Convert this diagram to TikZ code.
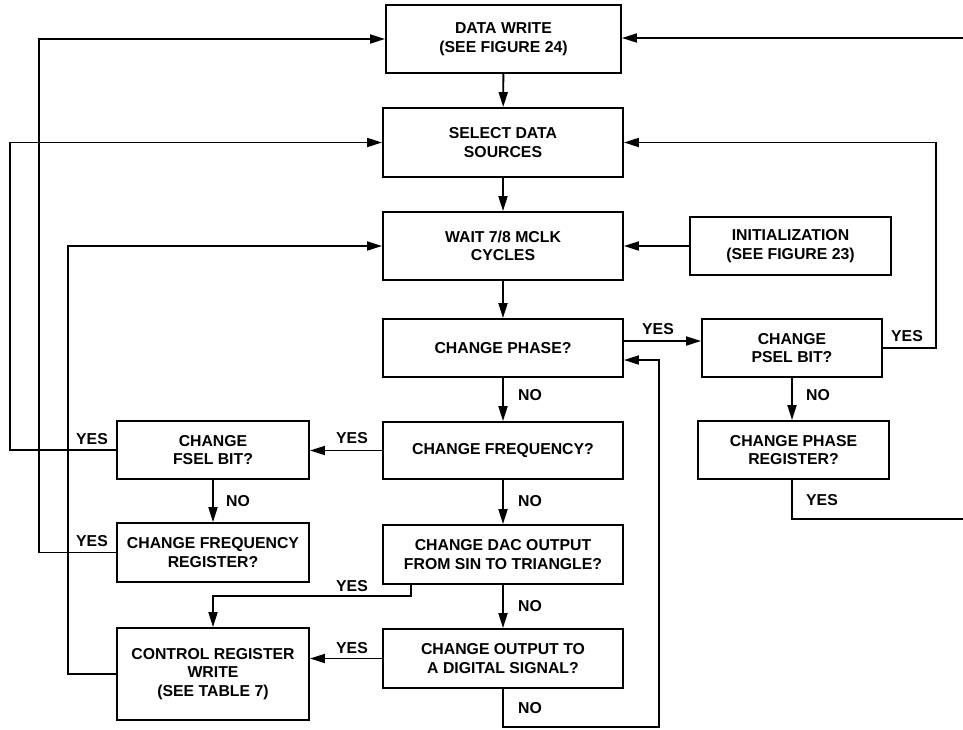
\documentclass[tikz,border=0pt]{standalone}
\usepackage{fontspec}
\setmainfont{Liberation Sans}
\usetikzlibrary{arrows.meta,calc}
\begin{document}
\begin{tikzpicture}[x=1pt,y=-1pt,
  every node/.style={font=\fontsize{15.8}{18.6}\selectfont\bfseries},
  box/.style={draw,line width=1.9pt,rectangle,inner sep=0pt,align=center},
  conn/.style={line width=1.9pt},
  arr/.style={conn,-{Triangle[length=15pt,width=9pt]}},
  lbl/.style={inner sep=0pt}]
\useasboundingbox (0,0) rectangle (963,729);
% boxes
\node[box,minimum width=235pt,minimum height=68pt] (dw) at (503.5,39) {DATA WRITE\\(SEE FIGURE 24)};
\node[box,minimum width=240pt,minimum height=69pt] (sel) at (503,142.5) {SELECT DATA\\SOURCES};
\node[box,minimum width=240pt,minimum height=68pt] (wait) at (503,246) {WAIT 7/8 MCLK\\CYCLES};
\node[box,minimum width=201pt,minimum height=58pt] (init) at (790.5,246) {INITIALIZATION\\(SEE FIGURE 23)};
\node[box,minimum width=240pt,minimum height=58pt] (phase) at (503,348) {CHANGE PHASE?};
\node[box,minimum width=180pt,minimum height=58pt] (psel) at (792,348) {CHANGE\\PSEL BIT?};
\node[box,minimum width=240pt,minimum height=57pt] (freq) at (503,450.5) {CHANGE FREQUENCY?};
\node[box,minimum width=192pt,minimum height=58pt] (fsel) at (213,450) {CHANGE\\FSEL BIT?};
\node[box,minimum width=191pt,minimum height=58pt] (preg) at (793.5,450) {CHANGE PHASE\\REGISTER?};
\node[box,minimum width=192pt,minimum height=59pt] (freg) at (213,552.5) {CHANGE FREQUENCY\\REGISTER?};
\node[box,minimum width=240pt,minimum height=59pt] (dac) at (503,554.5) {CHANGE DAC OUTPUT\\FROM SIN TO TRIANGLE?};
\node[box,minimum width=192pt,minimum height=92pt] (ctrl) at (213,674) {CONTROL REGISTER\\WRITE\\(SEE TABLE 7)};
\node[box,minimum width=240pt,minimum height=59pt] (dig) at (503,658.5) {CHANGE OUTPUT TO\\A DIGITAL SIGNAL?};
% free-end coordinates
\coordinate (de) at (963,38);
\coordinate (pr) at (936,0);
\coordinate (pe) at (963,519);
\coordinate (lb) at (659,727);
\coordinate (l1) at (10,0);
\coordinate (l2) at (39,0);
\coordinate (l3) at (68,0);
\coordinate (pa) at ($(phase.east)+(0,-7)$);
\coordinate (pb) at ($(phase.east)+(0,12)$);
\coordinate (da) at ($(dac.south west)+(29,0)$);
\coordinate (ca) at ($(ctrl.north)+(0,-31)$);
% main column
\draw[arr] (dw) -- (sel);
\draw[arr] (sel) -- (wait);
\draw[arr] (wait) -- (phase);
\draw[arr] (phase) -- (freq);
\draw[arr] (freq) -- (dac);
\draw[arr] (dac) -- (dig);
\draw[arr] (init.west) -- (init.west -| wait.east);
% right side
\draw[arr] (pa) -- (pa -| psel.west);
\draw[arr] (psel.east) -| (pr |- sel.east) -- (sel.east);
\draw[arr] (psel.south) -- (psel.south |- preg.north);
\draw[conn] (preg.south -| psel.south) |- (pe);
\draw[arr] (de) -- (de -| dw.east);
\draw[arr] (dig.south) |- (lb) |- (pb);
% left side
\draw[arr] (freq.west) -- (freq.west -| fsel.east);
\draw[arr] (fsel.west) -- (l1 |- fsel.west) |- (sel.west);
\draw[arr] (fsel) -- (freg);
\draw[arr] (freg.west) -- (l2 |- freg.west) |- (dw.west);
\draw[arr] (da) |- (ca) -- (ctrl.north);
\draw[arr] (dig.west) -- (dig.west -| ctrl.east);
\draw[arr] (ctrl.west) -- (l3 |- ctrl.west) |- (wait.west);
% labels
\node[lbl] (y1) at (658,329) {YES};
\node[lbl] (y2) at (907,336) {YES};
\node[lbl] (y3) at (822,500) {YES};
\node[lbl] (y4) at (92,439) {YES};
\node[lbl] (y5) at (352,438) {YES};
\node[lbl] (y6) at (92,541) {YES};
\node[lbl] (y7) at (352,586) {YES};
\node[lbl] (y8) at (352,648) {YES};
\node[lbl] (n1) at (530,395) {NO};
\node[lbl] (n2) at (818,395) {NO};
\node[lbl] (n3) at (238,501) {NO};
\node[lbl] (n4) at (530,501) {NO};
\node[lbl] (n5) at (530,606) {NO};
\node[lbl] (n6) at (530,708) {NO};
\end{tikzpicture}
\end{document}
